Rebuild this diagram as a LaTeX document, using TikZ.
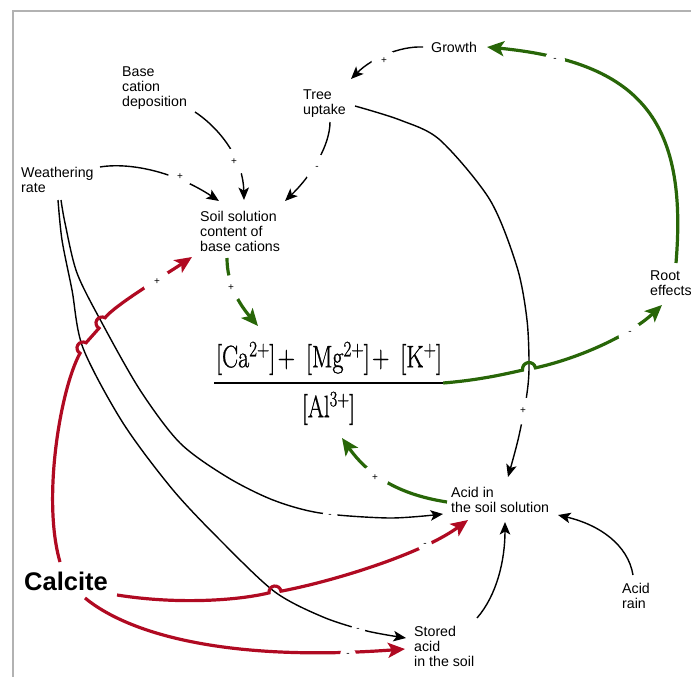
\documentclass[tikz,border=0pt]{standalone}
\usepackage{fontspec}
\usepackage{graphicx}
\usetikzlibrary{arrows.meta}
\newfontfamily\lab{Liberation Sans}
\newfontfamily\frm{Latin Modern Roman}[FakeBold=1]
\newcommand\supx[1]{\raisebox{11pt}{\fontsize{22}{22}\selectfont #1}}
\definecolor{calred}{RGB}{176,10,34}
\definecolor{calgrn}{RGB}{40,102,8}
\tikzset{
  lbl/.style={anchor=north west, inner sep=0pt, align=left, font=\lab\fontsize{14.2}{15}\selectfont},
  sgn/.style={circle, fill=white, inner sep=0pt, minimum size=#1, font=\lab\fontsize{10}{10}\selectfont},
  blk/.style={line width=1.4pt, -{Stealth[length=12.5pt,width=10.5pt,inset=3pt]}},
  thk/.style={line width=3.2pt, -{Stealth[length=17pt,width=15pt,inset=4pt]}},
  redc/.style={thk, draw=calred},
  grnc/.style={thk, draw=calgrn},
  frame/.style={draw=black!30, line width=2pt},
  frac/.style={anchor=base, inner sep=0pt, font=\frm\fontsize{31}{36}\selectfont},
}
\begin{document}
\begin{tikzpicture}[x=1pt,y=1pt]
\useasboundingbox (0,0) rectangle (691,-677);
\draw[frame] (13,-677) -- (13,-11) -- (691,-11);

% nodes
\node[lbl] (growth) at (431,-42) {Growth};
\node[lbl] (base) at (122,-67) {Base\\cation\\deposition};
\node[lbl] (tree) at (303,-90) {Tree\\uptake};
\node[lbl] (weath) at (21,-167) {Weathering\\rate};
\node[lbl] (soil) at (200,-211) {Soil solution\\content of\\base cations};
\node[lbl] (root) at (650,-271) {Root\\effects};
\node[lbl] (acid) at (451,-487) {Acid in\\the soil solution};
\node[lbl] (rain) at (622,-583) {Acid\\rain};
\node[lbl] (stored) at (414,-626) {Stored\\acid\\in the soil};
\node[lbl, font=\lab\bfseries\fontsize{25.5}{27}\selectfont] (calcite) at (24,-572) {Calcite};

\node[frac] (num) at (329,-367.25)
  {\resizebox{226pt}{\height}{[Ca\supx{2+}]\kern3pt+\kern14pt[Mg\supx{2+}]\kern3pt+\kern14pt[K\supx{+}]}};
\node[frac] (den) at (328.5,-417.25)
  {\resizebox{53pt}{\height}{[Al\supx{3+}]}};
\node[fill=black, inner sep=0pt, minimum width=229pt, minimum height=1.8pt] (bar) at (328.5,-383) {};

% black connectors
\draw[blk] ([shift={(-8,-5)}]growth.north west) .. controls (400,-46) and (372,-58) .. ([shift={(48,11)}]tree.north west);
\draw[blk] ([shift={(73,-45)}]base.north west) .. controls (215,-125) and (243,-155) .. ([shift={(44,11)}]soil.north west);
\draw[blk] ([shift={(27,-32)}]tree.north west) .. controls (330,-145) and (312,-175) .. ([shift={(85,10)}]soil.north west);
\draw[blk] ([shift={(79,0)}]weath.north west) .. controls (130,-162) and (175,-172) .. ([shift={(19,10)}]soil.north west);
\draw[blk] plot[smooth] coordinates {([shift={(40,-33)}]weath.north west) (65,-223) (77,-273) (102,-323) (140,-390) (180,-443) (227,-477) (273,-500) (320,-513) (390,-518) ([shift={(-8,-27)}]acid.north west)};
\draw[blk] plot[smooth] coordinates {([shift={(37,-33)}]weath.north west) (62,-240) (72,-290) (83,-348) (123,-423) (173,-490) (223,-543) (275,-592) (323,-617) (367,-631) ([shift={(-8,-12)}]stored.north west)};
\draw[blk] plot[smooth] coordinates {([shift={(52,-16)}]tree.north west) (400,-120) (440,-140) (490,-200) (517,-267) (527,-320) (529,-369) (526,-400) (518,-440) ([shift={(57,10)}]acid.north west)};
\draw[blk] ([shift={(11,8)}]rain.north west) .. controls (628,-545) and (600,-525) .. ([shift={(107,-28)}]acid.north west);
\draw[blk] ([shift={(63,8)}]stored.north west) .. controls (497,-595) and (505,-560) .. ([shift={(54,-35)}]acid.north west);

% green connectors
\draw[grnc] ([shift={(26,8)}]root.north west) .. controls (688,-120) and (640,-62) .. ([shift={(56,-5)}]growth.north west);
\draw[grnc] ([shift={(27,-47)}]soil.north west) .. controls (227,-285) and (240,-305) .. ([shift={(-70.5,57)}]bar.center);
\draw[grnc] ([shift={(-4,-15)}]acid.north west) .. controls (415,-497) and (375,-485) .. ([shift={(13.5,-55)}]bar.center);
\draw[grnc] (bar.east) .. controls (480,-380) and (505,-374) .. (522.6,-370.13)
  arc[start angle=190, end angle=10, radius=6.5pt]
  .. controls (580,-358) and (630,-335) .. ([shift={(12,-34)}]root.north west);

% red connectors
\draw[redc] ([shift={(36,10)}]calcite.north west) .. controls (42,-500) and (60,-390) .. (80,-353.2)
  arc[start angle=240, end angle=60, radius=6pt] -- (99,-328.2)
  arc[start angle=240, end angle=60, radius=6pt]
  .. controls (115,-305) and (165,-275) .. ([shift={(-8,-46)}]soil.north west);
\draw[redc] ([shift={(93,-23)}]calcite.north west) .. controls (180,-605) and (240,-600) .. (269.06,-592.84)
  arc[start angle=188, end angle=8, radius=6pt]
  .. controls (330,-582) and (420,-555) .. ([shift={(17,-33)}]acid.north west);
\draw[redc] ([shift={(61,-26)}]calcite.north west) .. controls (130,-635) and (230,-662) .. ([shift={(-9,-23)}]stored.north west);

% signs
\node[sgn=25pt] (s1) at (384,-61) {+};
\node[sgn=20pt] (s2) at (555,-60) {-};
\node[sgn=27pt] (s3) at (234,-162) {+};
\node[sgn=27pt] (s4) at (317,-168) {-};
\node[sgn=24pt] (s5) at (180,-177) {+};
\node[sgn=26pt] (s6) at (231,-288) {+};
\node[sgn=28pt] (s7) at (157,-282) {+};
\node[sgn=15pt] (s8) at (330,-516) {-};
\node[sgn=27pt] (s9) at (375,-478) {+};
\node[sgn=24pt] (s10) at (630,-333) {-};
\node[sgn=27pt] (s11) at (523,-411) {+};
\node[sgn=14pt] (s12) at (425,-545) {-};
\node[sgn=14pt] (s13) at (358,-630) {-};
\node[sgn=16pt] (s14) at (348,-655) {-};
\end{tikzpicture}
\end{document}
